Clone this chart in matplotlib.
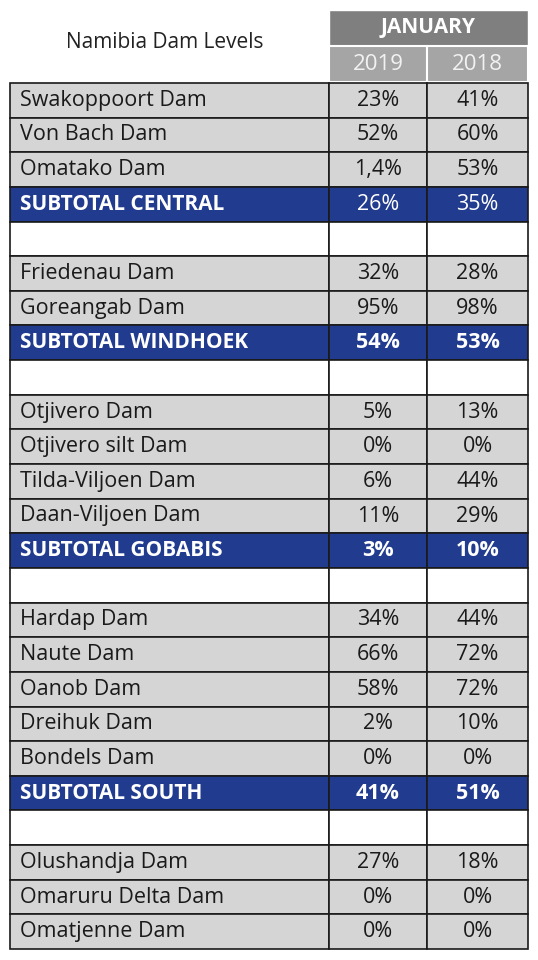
import matplotlib
matplotlib.use("Agg")
import matplotlib.pyplot as plt
from matplotlib.patches import Rectangle

title = "Namibia Dam Levels"
month = "JANUARY"
years = ["2019", "2018"]
names = ["Swakoppoort Dam", "Von Bach Dam", "Omatako Dam", "SUBTOTAL CENTRAL", "",
         "Friedenau Dam", "Goreangab Dam", "SUBTOTAL WINDHOEK", "",
         "Otjivero Dam", "Otjivero silt Dam", "Tilda-Viljoen Dam", "Daan-Viljoen Dam", "SUBTOTAL GOBABIS", "",
         "Hardap Dam", "Naute Dam", "Oanob Dam", "Dreihuk Dam", "Bondels Dam", "SUBTOTAL SOUTH", "",
         "Olushandja Dam", "Omaruru Delta Dam", "Omatjenne Dam"]
v2019 = ["23%", "52%", "1,4%", "26%", "", "32%", "95%", "54%", "", "5%", "0%", "6%", "11%", "3%", "",
         "34%", "66%", "58%", "2%", "0%", "41%", "", "27%", "0%", "0%"]
v2018 = ["41%", "60%", "53%", "35%", "", "28%", "98%", "53%", "", "13%", "0%", "44%", "29%", "10%", "",
         "44%", "72%", "72%", "10%", "0%", "51%", "", "18%", "0%", "0%"]
bold_subtotal = ["SUBTOTAL WINDHOEK", "SUBTOTAL GOBABIS", "SUBTOTAL SOUTH"]

W, H = 538, 960
fig = plt.figure(figsize=(W/100, H/100), dpi=100)
ax = fig.add_axes([0, 0, 1, 1])
ax.set_xlim(0, W); ax.set_ylim(H, 0); ax.axis("off")
FONT = "Open Sans"
cols = [(10, 329), (329, 427), (427, 528)]
y0, rh = 83, 34.64
GRAY, BLUE, EDGE = "#d5d5d5", "#213b8f", "#1a1a1a"

ax.text(165, 42, title, ha="center", va="center", fontsize=15, family=FONT, color="#222")
ax.add_patch(Rectangle((329, 10), 199, 36, fc="#7f7f7f", ec="white", lw=1))
ax.text(428, 28, month, ha="center", va="center", fontsize=15, weight="bold", family=FONT, color="white")
for (x1, x2), yr in zip(cols[1:], years):
    ax.add_patch(Rectangle((x1, 46), x2 - x1, 36, fc="#a5a5a5", ec="white", lw=1.5))
    ax.text((x1 + x2) / 2, 65, yr, ha="center", va="center", fontsize=16, family=FONT, color="#f2f2f2")

for i, (n, a, b) in enumerate(zip(names, v2019, v2018)):
    y = y0 + i * rh
    sub = n.startswith("SUBTOTAL")
    fc = BLUE if sub else ("white" if n == "" else GRAY)
    tc = "white" if sub else "#1a1a1a"
    for (x1, x2) in cols:
        ax.add_patch(Rectangle((x1, y), x2 - x1, rh, fc=fc, ec=EDGE, lw=1.2))
    cy = y + rh / 2
    ax.text(cols[0][0] + 10, cy, n, ha="left", va="center", fontsize=15.5 if not sub else 15,
            weight="bold" if sub else "normal", family=FONT, color=tc)
    vb = "bold" if n in bold_subtotal else "normal"
    ax.text(378, cy, a, ha="center", va="center", fontsize=15.5, weight=vb, family=FONT, color=tc)
    ax.text(477.5, cy, b, ha="center", va="center", fontsize=15.5, weight=vb, family=FONT, color=tc)

fig.savefig("out.png", dpi=100, facecolor="white")
